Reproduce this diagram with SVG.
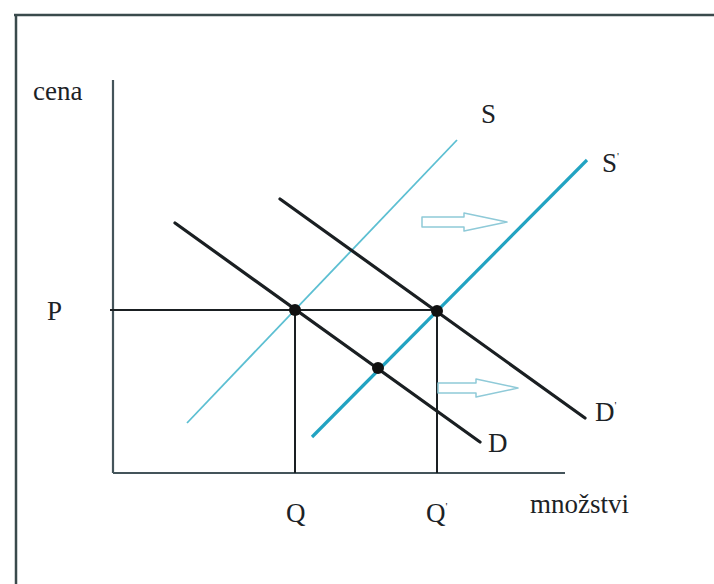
<svg xmlns="http://www.w3.org/2000/svg" width="714" height="584" viewBox="0 0 714 584">
<style>
.lbl{font-family:"Liberation Serif","Times New Roman",serif;font-size:27px;fill:#1c2226}
.pr{font-size:11px}
.ax{stroke:#44545a;stroke-width:2.2;fill:none}
.guide{stroke:#1a1f22;stroke-width:2;fill:none}
.dem{stroke:#1a1f22;stroke-width:3.2;fill:none;stroke-linecap:round}
.sup1{stroke:#5cbfd2;stroke-width:1.8;fill:none}
.sup2{stroke:#22a3c2;stroke-width:3.2;fill:none}
.shift{stroke:#8fcad8;stroke-width:1.5;fill:#ffffff;stroke-linejoin:round}
.dot{fill:#111}
</style>
<rect width="714" height="584" fill="#ffffff"/>
<g id="frame">
<line x1="14" y1="15" x2="714" y2="15" stroke="#3a4a4c" stroke-width="2.5"/>
<line x1="16" y1="15" x2="16" y2="584" stroke="#3a4a4c" stroke-width="2.5"/>
</g>
<g id="connectors">
<line class="ax" x1="113" y1="80" x2="113" y2="473"/>
<line class="ax" x1="113" y1="473" x2="565" y2="473"/>
<line class="guide" x1="110" y1="310" x2="437" y2="310"/>
<line class="guide" x1="295" y1="310" x2="295" y2="473"/>
<line class="guide" x1="437" y1="310" x2="437" y2="473"/>
</g>
<g id="curve-S"><line class="sup1" x1="187" y1="423" x2="457" y2="140"/></g>
<g id="curve-S2"><line class="sup2" x1="312" y1="437" x2="587" y2="160"/></g>
<g id="curve-D"><line class="dem" x1="175" y1="223" x2="480" y2="442"/></g>
<g id="curve-D2"><line class="dem" x1="280" y1="199" x2="585" y2="418"/></g>
<g id="points">
<circle class="dot" cx="295" cy="310" r="6"/>
<circle class="dot" cx="437" cy="311" r="6"/>
<circle class="dot" cx="378" cy="368" r="6"/>
</g>
<g id="shift-arrow-1"><path class="shift" d="M422 217 L464 217 L464 213 L507 222 L464 231 L464 227 L422 227 Z"/></g>
<g id="shift-arrow-2"><path class="shift" d="M438 383 L476 383 L476 379 L518 388 L476 397 L476 393 L438 393 Z"/></g>
<g id="labels">
<text class="lbl" x="33" y="100">cena</text>
<text class="lbl" x="47" y="320">P</text>
<text class="lbl" x="481" y="123">S</text>
<text class="lbl" x="602" y="172">S<tspan class="pr" dy="-12">'</tspan></text>
<text class="lbl" x="595" y="421">D<tspan class="pr" dy="-12">'</tspan></text>
<text class="lbl" x="488" y="452">D</text>
<text class="lbl" x="286" y="522">Q</text>
<text class="lbl" x="426" y="522">Q<tspan class="pr" dy="-12">'</tspan></text>
<text class="lbl" x="530" y="513">množstvi</text>
</g>
</svg>
